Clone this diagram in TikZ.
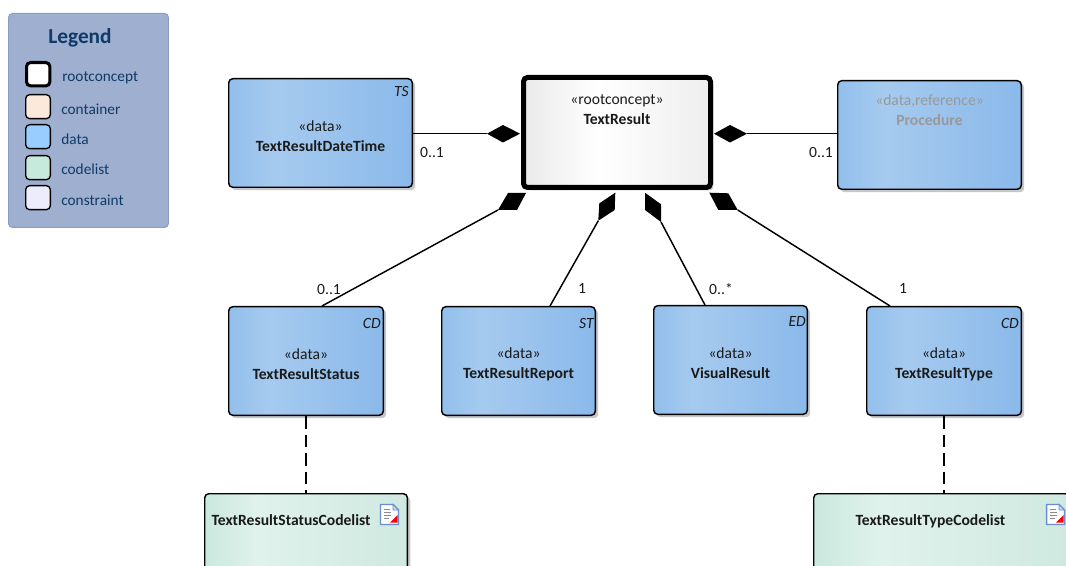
\documentclass[tikz,border=0pt]{standalone}
\usepackage{fontspec}
\setmainfont{Carlito}
\usetikzlibrary{calc}
\definecolor{legbg}{HTML}{9FAFD0}
\definecolor{legborder}{HTML}{8A9CC4}
\definecolor{legtext}{HTML}{0F3A68}
\definecolor{legcontainer}{HTML}{FBE9DC}
\definecolor{legdata}{HTML}{99CCFF}
\definecolor{legcode}{HTML}{C6EBDD}
\definecolor{legconstraint}{HTML}{ECECFC}
\definecolor{fadedtext}{HTML}{999999}
\definecolor{bodytext}{HTML}{1A1A1A}
\definecolor{dataA}{HTML}{92BFEC}
\definecolor{dataB}{HTML}{A6CAEF}
\definecolor{dataC}{HTML}{8AB9EA}
\definecolor{rootA}{HTML}{EAEAEA}
\definecolor{rootB}{HTML}{FFFFFF}
\definecolor{rootC}{HTML}{EEEEEE}
\definecolor{codeA}{HTML}{CAE8DE}
\definecolor{codeB}{HTML}{E0F2EC}
\definecolor{codeC}{HTML}{CFE9E0}
\definecolor{iconblue}{HTML}{6A8ED6}
\definecolor{iconfold}{HTML}{C9D8F2}
\pgfdeclarehorizontalshading{dataShade}{100bp}{color(0bp)=(dataA); color(25bp)=(dataA); color(38bp)=(dataB); color(75bp)=(dataC); color(100bp)=(dataC)}
\pgfdeclarehorizontalshading{rootShade}{100bp}{color(0bp)=(rootA); color(25bp)=(rootA); color(45bp)=(rootB); color(75bp)=(rootC); color(100bp)=(rootC)}
\pgfdeclarehorizontalshading{codeShade}{100bp}{color(0bp)=(codeA); color(25bp)=(codeA); color(38bp)=(codeB); color(75bp)=(codeC); color(100bp)=(codeC)}
\newcommand{\toplift}{\rule{0pt}{13pt}}
\tikzset{
  x=0.75pt, y=-0.75pt,
  umlbox/.style={draw=black, line width=1.1pt, rounded corners=3pt, inner sep=0pt, align=center,
    font=\fontsize{11.7pt}{14pt}\selectfont, text=bodytext, anchor=north west,
    preaction={draw=none, fill=black!22, transform canvas={xshift=2.2pt, yshift=-2.2pt}}},
  databox/.style={umlbox, shading=dataShade},
  rootbox/.style={umlbox, shading=rootShade, line width=3.75pt, minimum width=140.25pt, minimum height=82.5pt},
  codebox/.style={umlbox, shading=codeShade},
  corner/.style={font=\fontsize{11.7pt}{14pt}\selectfont\itshape, text=bodytext, inner sep=0pt, anchor=east},
  mult/.style={font=\fontsize{11.7pt}{14pt}\selectfont, text=bodytext, inner sep=0pt},
  assoc/.style={draw=black, line width=1.1pt},
  depend/.style={draw=black, line width=1.3pt, dash pattern=on 9.4pt off 4.5pt},
  composite/.style={fill=black, draw=none},
  legendbox/.style={draw=legborder, fill=legbg, line width=0.7pt, rounded corners=3pt, anchor=north west, inner sep=0pt, minimum width=120pt, minimum height=160.5pt},
  swatch/.style={draw=black, line width=1pt, rounded corners=3pt, anchor=north west, inner sep=0pt, minimum width=18.5pt, minimum height=18pt},
  legendtext/.style={text=legtext, font=\fontsize{11.5pt}{14pt}\selectfont, inner sep=0pt, anchor=west},
}
\newcommand{\docicon}[2]{%
  \begin{scope}[shift={(#1,#2)}]
    \draw[draw=iconblue, line width=1.1pt, fill=white, line join=round] (0.5,0.5) -- (13,0.5) -- (18.5,6) -- (18.5,20.5) -- (0.5,20.5) -- cycle;
    \draw[draw=iconblue, line width=0.7pt, fill=iconfold] (13,0.5) -- (13,6) -- (18.5,6) -- cycle;
    \draw[draw=black!45, line width=1pt] (4,5.5) -- (10,5.5) (4,8.5) -- (11,8.5) (4,11.5) -- (11,11.5) (4,14.5) -- (9,14.5);
    \fill[red] (17.5,11) -- (17.5,18.5) -- (10,18.5) -- cycle;
  \end{scope}}
\begin{document}
\begin{tikzpicture}
\useasboundingbox (0,0) rectangle (1066,566);
\clip (0,0) rectangle (1066,566);

% legend
\node[legendbox] (legend) at (8,13) {};
\node[text=legtext, font=\fontsize{16pt}{18pt}\selectfont\bfseries, inner sep=0pt] (legendtitle) at (80,38) {Legend};
\node[swatch, fill=white, line width=2.3pt, minimum width=17.5pt, minimum height=17.5pt] (s1) at (25,61) {};
\node[swatch, fill=legcontainer] (s2) at (25,94) {};
\node[swatch, fill=legdata] (s3) at (25,124) {};
\node[swatch, fill=legcode] (s4) at (25,155) {};
\node[swatch, fill=legconstraint] (s5) at (25,185) {};
\node[legendtext] (l1) at (62,78) {rootconcept};
\node[legendtext] (l2) at (61,109) {container};
\node[legendtext] (l3) at (61,139) {data};
\node[legendtext] (l4) at (61,169) {codelist};
\node[legendtext] (l5) at (61,200) {constraint};

% boxes
\node[databox, minimum width=137.65pt, minimum height=81.4pt] (dt) at (228,78) {\toplift «data»\\[1.2pt]\textbf{TextResultDateTime}};
\node[rootbox] (root) at (521,75) {«rootconcept»\\[1.2pt]\textbf{TextResult}\\[16.5pt]\strut};
\node[databox, minimum width=137.65pt, minimum height=81.4pt, text=fadedtext] (proc) at (837,80) {«data,reference»\\[1.2pt]\textbf{Procedure}\\[19pt]\strut};
\node[databox, minimum width=115.9pt, minimum height=81.4pt] (status) at (228,306) {\toplift «data»\\[1.2pt]\textbf{TextResultStatus}};
\node[databox, minimum width=115.15pt, minimum height=81.4pt] (report) at (441,306) {\toplift «data»\\[1.2pt]\textbf{TextResultReport}};
\node[databox, minimum width=115.15pt, minimum height=81.4pt] (visual) at (653,305) {\toplift «data»\\[1.2pt]\textbf{VisualResult}};
\node[databox, minimum width=115.9pt, minimum height=81.4pt] (type) at (866,306) {\toplift «data»\\[1.2pt]\textbf{TextResultType}};
\node[codebox, minimum width=152pt, minimum height=90pt] (statuscode) at (204,493) {\textbf{TextResultStatusCodelist}\hspace*{22.5pt}\\[33pt]\strut};
\node[codebox, minimum width=192pt, minimum height=90pt] (typecode) at (813,493) {\textbf{TextResultTypeCodelist}\hspace*{17pt}\\[33pt]\strut};

% corner tags
\node[corner] (tagdt) at (409,92) {TS};
\node[corner] (tagstatus) at (381,323) {CD};
\node[corner] (tagreport) at (594,323) {ST};
\node[corner] (tagvisual) at (806,321) {ED};
\node[corner] (tagtype) at (1019,323) {CD};

% icons
\docicon{380}{504}
\docicon{1046}{504}

% composite diamonds
\coordinate (dW) at (487,133.7);
\coordinate (dE) at (747,133.7);
\coordinate (dSW) at (498,210);
\coordinate (dSL) at (598.3,220.7);
\coordinate (dSR) at (661,222);
\coordinate (dSE) at (737.7,210);
\fill[composite] (dW) -- (503,125) -- (520,133.7) -- (503,142.5) -- cycle;
\fill[composite] (714,133.7) -- (730,125) -- (dE) -- (730,142.5) -- cycle;
\fill[composite] (508,193) -- (526,193) -- (517,210) -- (dSW) -- cycle;
\fill[composite] (615.3,192.7) -- (599.3,203.3) -- (dSL) -- (614.7,210) -- cycle;
\fill[composite] (645,192.7) -- (661,204.3) -- (dSR) -- (645,210) -- cycle;
\fill[composite] (709.3,192.7) -- (728.3,193.3) -- (dSE) -- (718.3,210) -- cycle;

% connectors
\draw[assoc] (dW) -- (dW -| dt.east);
\draw[assoc] (dE) -- (dE -| proc.west);
\draw[assoc] (dSW) -- ($(status.north)+(16,0)$);
\draw[assoc] (dSL) -- ($(report.north)+(31.5,0)$);
\draw[assoc] (dSR) -- ($(visual.north)+(-25.5,0)$);
\draw[assoc] (dSE) -- ($(type.north)+(-54,0)$);
\draw[depend] (status.south) -- (statuscode.north -| status.south);
\draw[depend] (type.south) -- (typecode.north -| type.south);

% multiplicities
\node[mult] (m1) at (432,153) {0..1};
\node[mult] (m2) at (821,153) {0..1};
\node[mult] (m3) at (329,289) {0..1};
\node[mult] (m4) at (582,288) {1};
\node[mult] (m5) at (721,289) {0..*};
\node[mult] (m6) at (903,288) {1};
\end{tikzpicture}
\end{document}
